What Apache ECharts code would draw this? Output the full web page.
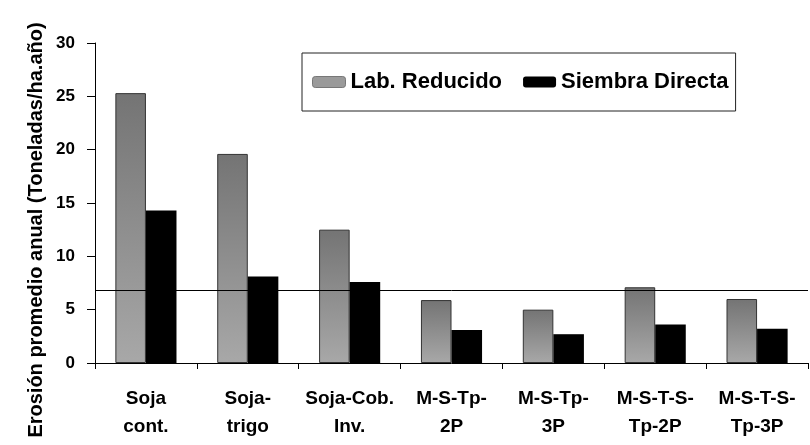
<!DOCTYPE html>
<html>
<head>
<meta charset="utf-8">
<script src="https://cdn.jsdelivr.net/npm/echarts@6/dist/echarts.min.js"></script>
<style>html,body{margin:0;padding:0;background:#fff;}#c{width:810px;height:445px;}</style>
</head>
<body>
<div id="c"></div>
<script>
const categories = ['Soja\ncont.', 'Soja-\ntrigo', 'Soja-Cob.\nInv.', 'M-S-Tp-\n2P', 'M-S-Tp-\n3P', 'M-S-T-S-\nTp-2P', 'M-S-T-S-\nTp-3P'];
const labReducido = [25.3, 19.6, 12.5, 5.9, 5.0, 7.1, 6.0];
const siembraDirecta = [14.3, 8.1, 7.6, 3.1, 2.7, 3.6, 3.2];
const referenceLine = 6.8;
const yTicks = { min: 0, max: 30, interval: 5 };
const yTitle = 'Erosión promedio anual (Toneladas/ha.año)';

const chart = echarts.init(document.getElementById('c'), null, { renderer: 'canvas' });
const reg = "'Liberation Sans', Arial, sans-serif";
chart.setOption({
  animation: false,
  backgroundColor: '#fff',
  grid: { left: 95, right: 2, top: 43, bottom: 82 },
  graphic: [{
    type: 'text',
    x: 36, y: 230,
    rotation: Math.PI / 2,
    style: {
      text: yTitle,
      font: "bold 20px 'Liberation Sans', Arial, sans-serif",
      fill: '#000',
      align: 'center',
      verticalAlign: 'middle'
    }
  }],
  legend: {
    left: 302, top: 53,
    orient: 'horizontal',
    itemWidth: 33, itemHeight: 11, itemGap: 21,
    padding: [18, 7, 18, 10],
    borderColor: '#222', borderWidth: 1,
    textStyle: { fontFamily: reg, fontWeight: 'bold', fontSize: 22, color: '#000' },
    data: [
      { name: 'Lab. Reducido', itemStyle: { color: '#9a9a9a', borderColor: '#777', borderWidth: 1 } },
      { name: 'Siembra Directa', itemStyle: { color: '#000' } }
    ]
  },
  xAxis: {
    type: 'category',
    data: categories,
    axisLine: { lineStyle: { color: '#000', width: 1 } },
    axisTick: { show: true, length: 6, lineStyle: { color: '#000' } },
    axisLabel: { fontFamily: reg, fontWeight: 'bold', fontSize: 19, color: '#000', lineHeight: 28, margin: 22, interval: 0 }
  },
  yAxis: {
    type: 'value',
    min: yTicks.min, max: yTicks.max, interval: yTicks.interval,
    axisLine: { show: true, lineStyle: { color: '#000', width: 1 } },
    axisTick: { show: true, length: 8, lineStyle: { color: '#000' } },
    axisLabel: { fontFamily: reg, fontWeight: 'bold', fontSize: 17, color: '#000', margin: 20 },
    splitLine: { show: false }
  },
  series: [
    {
      name: 'Lab. Reducido',
      type: 'bar',
      data: labReducido,
      barWidth: '30%',
      barGap: '0%',
      itemStyle: {
        color: new echarts.graphic.LinearGradient(0, 0, 0, 1, [
          { offset: 0, color: '#747474' },
          { offset: 1, color: '#a8a8a8' }
        ]),
        borderColor: '#333', borderWidth: 1
      },
      markLine: {
        silent: true,
        symbol: ['none', 'none'],
        label: { show: false },
        lineStyle: { color: '#000', width: 1, type: 'solid' },
        data: [{ yAxis: referenceLine }]
      }
    },
    {
      name: 'Siembra Directa',
      type: 'bar',
      data: siembraDirecta,
      barWidth: '30%',
      itemStyle: { color: '#000' }
    }
  ]
});
</script>
</body>
</html>
